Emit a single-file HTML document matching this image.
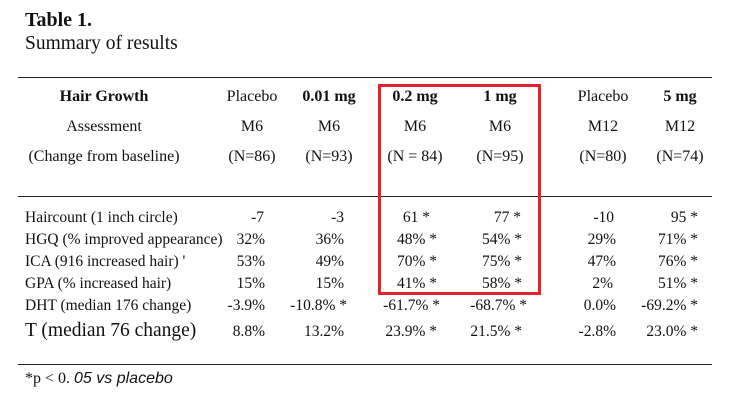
<!DOCTYPE html>
<html><head><meta charset="utf-8"><style>
body{margin:0;width:741px;height:403px;background:#fff;position:relative;overflow:hidden;font-family:"Liberation Serif",serif;color:#111}
.t{position:absolute;white-space:nowrap;font-size:15.5px;line-height:1}
.h{font-size:16px}
.c{transform:translateX(-50%)}
.r{transform:translateX(-100%)}
.b{font-weight:bold}
.line{position:absolute;left:18px;width:694px;height:1.3px;background:#222}
</style></head><body>
<div class="t b" style="left:25px;top:10px;font-size:20px">Table 1.</div>
<div class="t" style="left:25px;top:34px;font-size:19.5px">Summary of results</div>
<div class="line" style="top:77px"></div>
<div class="line" style="top:196px"></div>
<div class="line" style="top:364px"></div>
<div style="position:absolute;left:378px;top:84px;width:157px;height:205px;border:3.5px solid #e8202a"></div>

<div class="t h b c" style="left:104px;top:89px">Hair Growth</div>
<div class="t h c" style="left:104px;top:119px">Assessment</div>
<div class="t h c" style="left:104px;top:149px">(Change from baseline)</div>
<div class="t h c" style="left:252px;top:89px">Placebo</div>
<div class="t h c" style="left:252px;top:119px">M6</div>
<div class="t h c" style="left:252px;top:149px">(N=86)</div>
<div class="t h b c" style="left:329px;top:89px">0.01 mg</div>
<div class="t h c" style="left:329px;top:119px">M6</div>
<div class="t h c" style="left:329px;top:149px">(N=93)</div>
<div class="t h b c" style="left:415px;top:89px">0.2 mg</div>
<div class="t h c" style="left:415px;top:119px">M6</div>
<div class="t h c" style="left:415px;top:149px">(N = 84)</div>
<div class="t h b c" style="left:500px;top:89px">1 mg</div>
<div class="t h c" style="left:500px;top:119px">M6</div>
<div class="t h c" style="left:500px;top:149px">(N=95)</div>
<div class="t h c" style="left:603px;top:89px">Placebo</div>
<div class="t h c" style="left:603px;top:119px">M12</div>
<div class="t h c" style="left:603px;top:149px">(N=80)</div>
<div class="t h b c" style="left:680px;top:89px">5 mg</div>
<div class="t h c" style="left:680px;top:119px">M12</div>
<div class="t h c" style="left:680px;top:149px">(N=74)</div>

<div class="t" style="left:25px;top:210px">Haircount (1 inch circle)</div>
<div class="t" style="left:25px;top:232px">HGQ (% improved appearance)</div>
<div class="t" style="left:25px;top:254px">ICA (916 increased hair) '</div>
<div class="t" style="left:25px;top:276px">GPA (% increased hair)</div>
<div class="t" style="left:25px;top:298px">DHT (median 176 change)</div>
<div class="t" style="left:25px;top:321px;font-size:19.5px">T (median 76 change)</div>

<div class="t r" style="left:264px;top:210px">-7</div>
<div class="t r" style="left:265px;top:232px">32%</div>
<div class="t r" style="left:265px;top:254px">53%</div>
<div class="t r" style="left:265px;top:276px">15%</div>
<div class="t r" style="left:265px;top:298px">-3.9%</div>
<div class="t r" style="left:265px;top:324px">8.8%</div>

<div class="t r" style="left:344px;top:210px">-3</div>
<div class="t r" style="left:344px;top:232px">36%</div>
<div class="t r" style="left:344px;top:254px">49%</div>
<div class="t r" style="left:344px;top:276px">15%</div>
<div class="t r" style="left:347px;top:298px">-10.8% *</div>
<div class="t r" style="left:344px;top:324px">13.2%</div>

<div class="t r" style="left:430px;top:210px">61 *</div>
<div class="t r" style="left:437px;top:232px">48% *</div>
<div class="t r" style="left:437px;top:254px">70% *</div>
<div class="t r" style="left:437px;top:276px">41% *</div>
<div class="t r" style="left:440px;top:298px">-61.7% *</div>
<div class="t r" style="left:437px;top:324px">23.9% *</div>

<div class="t r" style="left:521px;top:210px">77 *</div>
<div class="t r" style="left:522px;top:232px">54% *</div>
<div class="t r" style="left:522px;top:254px">75% *</div>
<div class="t r" style="left:522px;top:276px">58% *</div>
<div class="t r" style="left:527px;top:298px">-68.7% *</div>
<div class="t r" style="left:522px;top:324px">21.5% *</div>

<div class="t r" style="left:614px;top:210px">-10</div>
<div class="t r" style="left:616px;top:232px">29%</div>
<div class="t r" style="left:616px;top:254px">47%</div>
<div class="t r" style="left:613px;top:276px">2%</div>
<div class="t r" style="left:616px;top:298px">0.0%</div>
<div class="t r" style="left:616px;top:324px">-2.8%</div>

<div class="t r" style="left:698px;top:210px">95 *</div>
<div class="t r" style="left:698px;top:232px">71% *</div>
<div class="t r" style="left:698px;top:254px">76% *</div>
<div class="t r" style="left:698px;top:276px">51% *</div>
<div class="t r" style="left:698px;top:298px">-69.2% *</div>
<div class="t r" style="left:698px;top:324px">23.0% *</div>

<div class="t" style="left:25px;top:371px;font-size:16px">*p &lt; 0. <span style="font-family:'Liberation Sans',sans-serif;font-style:italic;font-size:16px">05 vs placebo</span></div>
</body></html>
